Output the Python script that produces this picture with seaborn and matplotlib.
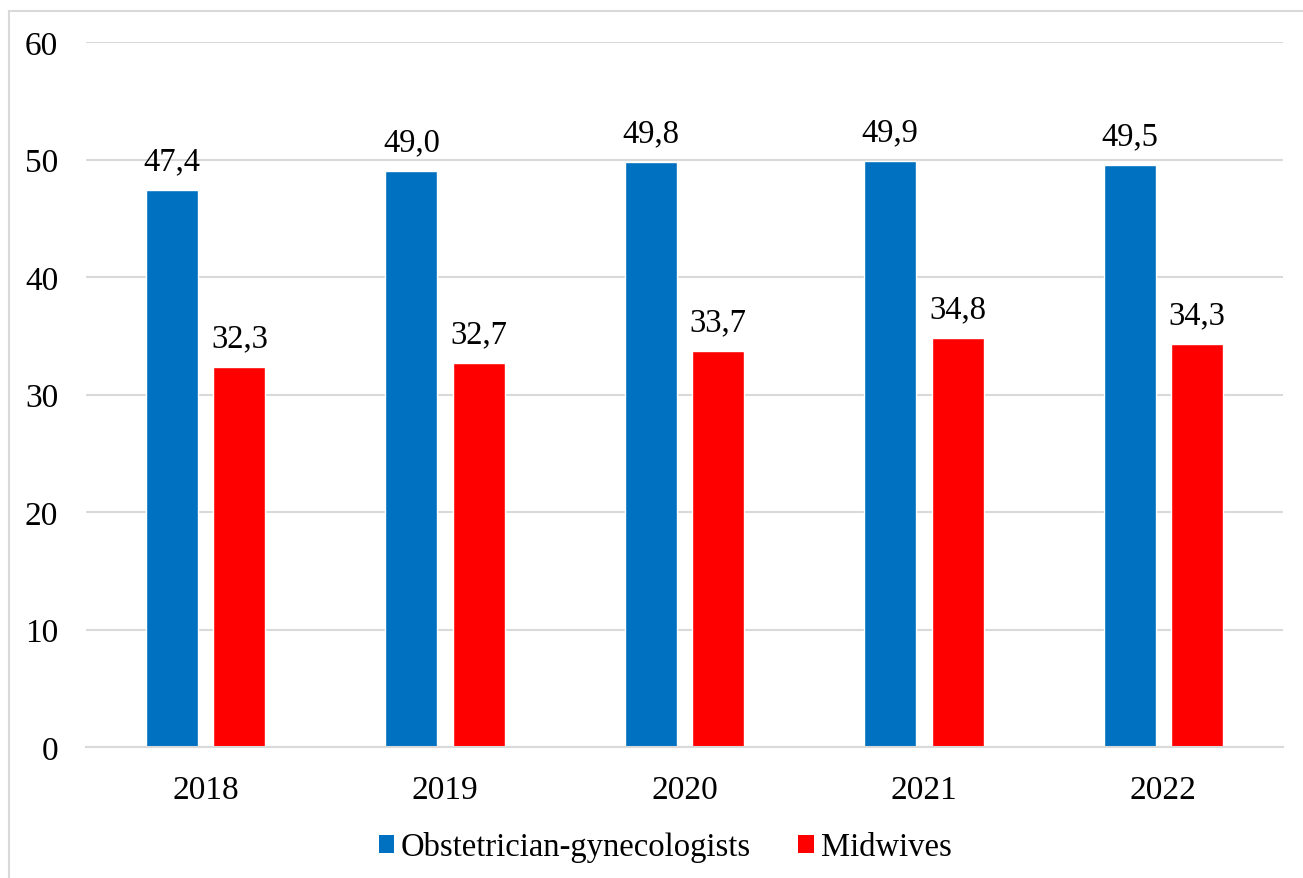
import matplotlib
matplotlib.use("Agg")
import matplotlib.pyplot as plt
import seaborn as sns
import pandas as pd
from matplotlib.patches import Rectangle, Patch

years = ["2018", "2019", "2020", "2021", "2022"]
obgyn = [47.4, 49.0, 49.8, 49.9, 49.5]
midwives = [32.3, 32.7, 33.7, 34.8, 34.3]
series_names = ["Obstetrician-gynecologists", "Midwives"]
colors = ["#0070C0", "#FF0000"]

df = pd.DataFrame({
    "year": years * 2,
    "value": obgyn + midwives,
    "group": [series_names[0]] * len(years) + [series_names[1]] * len(years),
})

sns.set_theme(style="white")
plt.rcParams["font.family"] = ["Liberation Serif", "DejaVu Serif"]
plt.rcParams["text.color"] = "black"
plt.rcParams["xtick.color"] = "black"
plt.rcParams["ytick.color"] = "black"

W, H, DPI = 1303, 879, 100
fig = plt.figure(figsize=(W / DPI, H / DPI), dpi=DPI)
ax = fig.add_axes([86 / W, 1 - 748 / H, (1283 - 86) / W, (748 - 43) / H])

sns.barplot(data=df, x="year", y="value", hue="group", order=years,
            hue_order=series_names, palette=colors, width=0.564, gap=0.23,
            saturation=1, ax=ax, legend=False)

ax.set_ylim(0, 60)
ax.set_xlim(-0.5, len(years) - 0.5)
ax.set_yticks(range(0, 61, 10))
ax.yaxis.grid(True, color="#D9D9D9", linewidth=1.5)
ax.set_axisbelow(True)
for s in ["top", "right", "left"]:
    ax.spines[s].set_visible(False)
ax.spines["bottom"].set_color("#D9D9D9")
ax.spines["bottom"].set_linewidth(1.5)
ax.tick_params(axis="y", length=0, pad=20, labelsize=24)
ax.tick_params(axis="x", length=0, pad=20, labelsize=24)
ax.set_xlabel("")
ax.set_ylabel("")

for container in ax.containers:
    ax.bar_label(container, labels=[f"{v:.1f}".replace(".", ",") for v in container.datavalues],
                 padding=10, fontsize=23.5, color="black")

handles = [Patch(facecolor=c, edgecolor="none") for c in colors]
fig.legend(handles, series_names, loc="center", bbox_to_anchor=(665 / W, 1 - 848 / H),
           ncol=2, frameon=False, fontsize=23.5, handlelength=0.48, handleheight=0.48,
           handletextpad=0.2, columnspacing=1.45)

fig.patches.append(Rectangle((9 / W, -0.1), 1.2, 1 - 12 / H + 0.1, transform=fig.transFigure,
                             fill=False, edgecolor="#D9D9D9", linewidth=1.5))

fig.savefig("out.png", dpi=DPI)
